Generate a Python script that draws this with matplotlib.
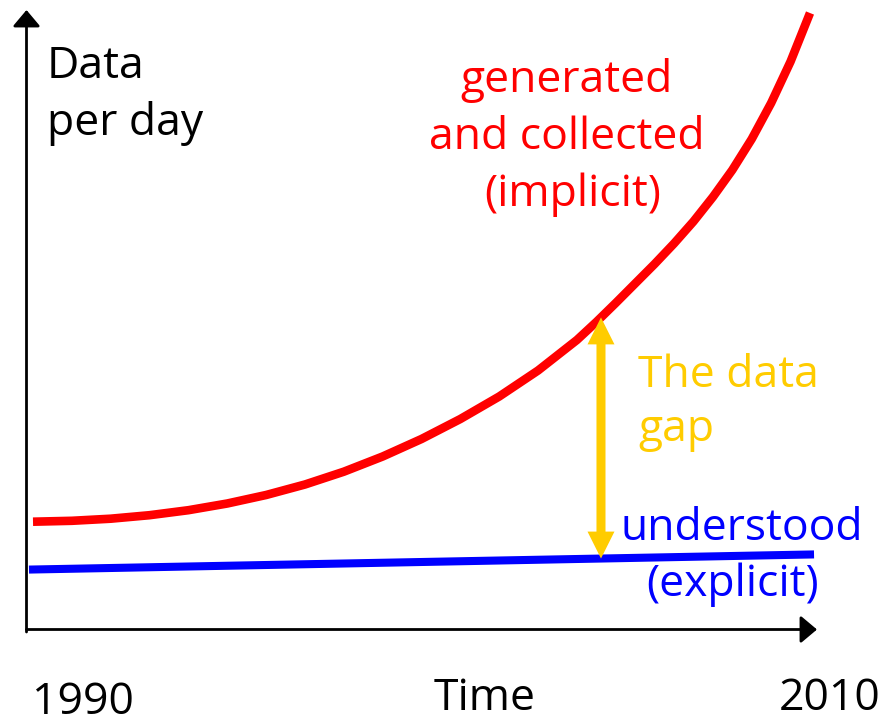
import numpy as np
import matplotlib
matplotlib.use("Agg")
import matplotlib.pyplot as plt
from matplotlib.patches import FancyArrowPatch

# ---- data (arbitrary "data per day" units) ----
years = [1990, 1991, 1992, 1993, 1994, 1995, 1996, 1997, 1998, 1999, 2000,
         2001, 2002, 2003, 2004, 2004.5, 2005, 2005.5, 2006, 2006.5, 2007,
         2007.5, 2008, 2008.5, 2009, 2009.5, 2010]
generated = [108.3, 109.2, 111.3, 114.8, 119.8, 126.5, 135, 145.5, 158.3, 173.5, 191,
             211, 233.5, 259.5, 290, 308, 327, 346.5, 366, 386.5, 408.5,
             433, 460, 491, 527, 568.5, 617]
understood_years = [1990, 2010]
understood = [60.5, 75.5]
gap_year = 2004.62

# ---- figure: one axes covering the whole canvas ----
W, H = 884, 720
fig = plt.figure(figsize=(W / 100, H / 100), dpi=100)
ax = fig.add_axes([0, 0, 1, 1])
PX_PER_YEAR = 38.85
X_LEFT_PX = 33  # pixel position of 1990
ax.set_xlim(1990 - X_LEFT_PX / PX_PER_YEAR, 1990 + (W - X_LEFT_PX) / PX_PER_YEAR)
ax.set_ylim(-90, 630)
ax.axis("off")

def xpx(p):
    return 1990 + (p - X_LEFT_PX) / PX_PER_YEAR

# curves
ax.plot(years, generated, color="#FF0000", lw=6.2, solid_capstyle="butt",
        solid_joinstyle="round", zorder=3)
ax.plot(understood_years, understood, color="#0000FF", lw=5.8,
        solid_capstyle="projecting", zorder=3)

# axes arrows
x0 = xpx(26.5)
for (a, b) in [((x0, -2), (x0, 620)), ((x0, 0.5), (xpx(817), 0.5))]:
    ax.add_patch(FancyArrowPatch(a, b, arrowstyle="-|>,head_length=0.5,head_width=0.42",
                                 mutation_scale=20, lw=2.0, color="black",
                                 shrinkA=0, shrinkB=0, zorder=4))

# data gap arrow (double headed, built from two filled arrows)
top = np.interp(gap_year, years, generated)
bot = np.interp(gap_year, understood_years, understood)
mid = (top + bot) / 2
for end in (top, bot):
    ax.add_patch(FancyArrowPatch((gap_year, mid), (gap_year, end),
                                 arrowstyle="simple,head_length=1.94,head_width=1.94,tail_width=0.65",
                                 mutation_scale=10, lw=0, color="#FFCC00",
                                 shrinkA=0, shrinkB=0, zorder=5))

FONT = "Open Sans"
FS = 32

def t(px, py, s, color, ha="left"):
    fig.text(px / W, 1 - py / H, s, color=color, ha=ha, va="baseline",
             fontsize=FS, family=FONT)

t(47, 78, "Data", "black")
t(47, 135, "per day", "black")
t(567, 92, "generated", "#FF0000", ha="center")
t(567, 149, "and collected", "#FF0000", ha="center")
t(573, 206, "(implicit)", "#FF0000", ha="center")
t(638, 387, "The data", "#FFCC00")
t(638, 441, "gap", "#FFCC00")
t(620, 540, "understood", "#0000FF")
t(646, 596, "(explicit)", "#0000FF")
t(32, 714, "1990", "black")
t(434, 710, "Time", "black")
t(779, 710, "2010", "black")

fig.savefig("out.png", dpi=100)
